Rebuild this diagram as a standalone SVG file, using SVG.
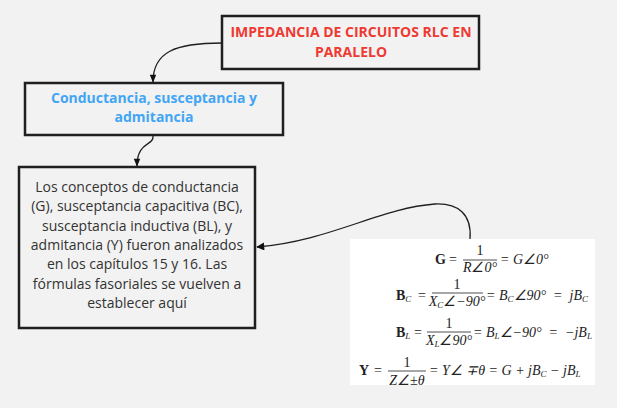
<svg xmlns="http://www.w3.org/2000/svg" width="617" height="408" viewBox="0 0 617 408">
<defs>
<style>
.box{fill:#f2f2f2;stroke:#1f1f1f;stroke-width:2.5}
.t1{font-family:"Open Sans","Liberation Sans",sans-serif;font-size:14px;font-weight:bold;fill:#ee3a32;text-anchor:middle}
.t2{font-family:"Open Sans","Liberation Sans",sans-serif;font-size:14px;font-weight:bold;fill:#42a5f5;text-anchor:middle}
.t3{font-family:"Open Sans","Liberation Sans",sans-serif;font-size:14px;fill:#333;text-anchor:middle}
.f{font-family:"Liberation Serif","Times New Roman",serif;font-size:14px;fill:#222;white-space:pre}
.fi{font-style:italic}
.fb{font-weight:bold}
.fm{text-anchor:middle}
.bar{stroke:#222;stroke-width:0.8}
.conn{fill:none;stroke:#1f1f1f;stroke-width:1.3}
</style>
<marker id="ah" viewBox="0 0 10 10" refX="9" refY="5" markerWidth="10" markerHeight="8" markerUnits="userSpaceOnUse" orient="auto">
<path d="M0,1 L10,5 L0,9 Z" fill="#111"/>
</marker>
<marker id="ah2" viewBox="0 0 10 10" refX="9" refY="5" markerWidth="12" markerHeight="8" markerUnits="userSpaceOnUse" orient="auto">
<path d="M0,0 L10,5 L0,10 Z" fill="#111"/>
</marker>
<clipPath id="fclip"><rect x="350" y="239" width="245" height="146"/></clipPath>
</defs>
<rect width="617" height="408" fill="#f2f2f2"/>
<g id="connectors">
<path class="conn" d="M222,43 C175,43 153,52 153,82" marker-end="url(#ah)"/>
<path class="conn" d="M153,136 C154,146 137,141 137,166" marker-end="url(#ah)"/>
<path class="conn" d="M470,239 C472,214 458,203 435,204 C380,208 330,241 257,247" marker-end="url(#ah2)"/>
</g>
<g id="node-impedancia">
<rect class="box" x="222" y="16" width="257" height="53"/>
<text class="t1" x="351" y="37">IMPEDANCIA DE CIRCUITOS RLC EN</text>
<text class="t1" x="351" y="57">PARALELO</text>
</g>
<g id="node-conductancia">
<rect class="box" x="25" y="83" width="258" height="52"/>
<text class="t2" x="154" y="103">Conductancia, susceptancia y</text>
<text class="t2" x="154" y="122">admitancia</text>
</g>
<g id="node-conceptos">
<rect class="box" x="19" y="167" width="236" height="161"/>
<text class="t3" x="137" y="192">Los conceptos de conductancia</text>
<text class="t3" x="137" y="211">(G), susceptancia capacitiva (BC),</text>
<text class="t3" x="137" y="231">susceptancia inductiva (BL), y</text>
<text class="t3" x="137" y="250">admitancia (Y) fueron analizados</text>
<text class="t3" x="137" y="269">en los capítulos 15 y 16. Las</text>
<text class="t3" x="137" y="289">fórmulas fasoriales se vuelven a</text>
<text class="t3" x="137" y="308">establecer aquí</text>
</g>
<g id="node-formulas">
<rect x="350" y="239" width="245" height="146" fill="#ffffff"/>
<g clip-path="url(#fclip)">
<text class="f fb" x="435" y="264">G</text>
<text class="f" x="449" y="264">=</text>
<text class="f fm" x="480" y="255">1</text>
<line class="bar" x1="463" y1="260" x2="497" y2="260"/>
<text class="f fm fi" x="480" y="272">R∠0°</text>
<text class="f fi" x="500" y="264">= G∠0°</text>

<text class="f fb" x="396" y="300">B<tspan class="fi" font-size="9" dy="2" font-weight="normal">C</tspan></text>
<text class="f" x="418" y="300">=</text>
<text class="f fm" x="457" y="289">1</text>
<line class="bar" x1="432" y1="293" x2="483" y2="293"/>
<text class="f fm fi" x="457" y="306">X<tspan font-size="9" dy="2">C</tspan><tspan dy="-2">∠−90°</tspan></text>
<text class="f fi" x="486" y="300">= B<tspan font-size="9" dy="2">C</tspan><tspan dy="-2">∠90°  =  jB</tspan><tspan font-size="9" dy="2">C</tspan></text>

<text class="f fb" x="396" y="337">B<tspan class="fi" font-size="9" dy="2" font-weight="normal">L</tspan></text>
<text class="f" x="414" y="337">=</text>
<text class="f fm" x="449" y="328">1</text>
<line class="bar" x1="427" y1="332" x2="471" y2="332"/>
<text class="f fm fi" x="449" y="345">X<tspan font-size="9" dy="2">L</tspan><tspan dy="-2">∠90°</tspan></text>
<text class="f fi" x="473" y="337">= B<tspan font-size="9" dy="2">L</tspan><tspan dy="-2">∠−90°  =  −jB</tspan><tspan font-size="9" dy="2">L</tspan></text>

<text class="f fb" x="359" y="375">Y</text>
<text class="f" x="374" y="375">=</text>
<text class="f fm" x="407" y="367">1</text>
<line class="bar" x1="388" y1="371" x2="426" y2="371"/>
<text class="f fm fi" x="407" y="385">Z∠±θ</text>
<text class="f fi" x="429" y="375">= Y∠ ∓θ = G + jB<tspan font-size="9" dy="2">C</tspan><tspan dy="-2"> − jB</tspan><tspan font-size="9" dy="2">L</tspan></text>
</g>
</g>
</svg>
